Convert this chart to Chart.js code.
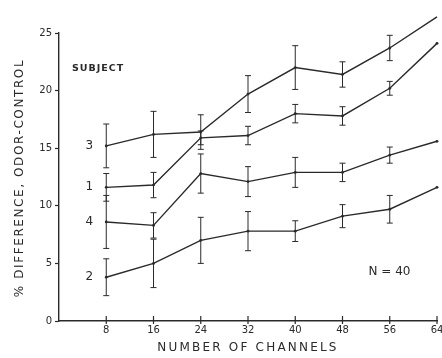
<!DOCTYPE html>
<html>
<head>
<meta charset="utf-8">
<script src="https://cdn.jsdelivr.net/npm/chart.js@4/dist/chart.umd.min.js"></script>
<style>
    html, body { margin: 0; padding: 0; background: #fff; }
    #wrap { width: 442px; height: 358px; position: relative; }
</style>
</head>
<body>
<div id="wrap"><canvas id="chart"></canvas></div>
<script>
// data
const channels = [8, 16, 24, 32, 40, 48, 56, 64];
const subjectLabels = ['3', '1', '4', '2'];
const subject3 = [15.2, 16.2, 16.4, 19.7, 22.0, 21.4, 23.7, 26.4];
const subject1 = [11.6, 11.8, 15.9, 16.1, 18.0, 17.8, 20.2, 24.1];
const subject4 = [8.6, 8.3, 12.8, 12.1, 12.9, 12.9, 14.4, 15.6];
const subject2 = [3.8, 5.0, 7.0, 7.8, 7.8, 9.1, 9.7, 11.6];
const err3 = [1.9, 2.0, 1.5, 1.6, 1.9, 1.1, 1.1, 0];
const err1 = [1.2, 1.1, 0.6, 0.8, 0.8, 0.8, 0.6, 0];
const err4 = [2.3, 1.1, 1.7, 1.3, 1.3, 0.8, 0.7, 0];
const err2 = [1.6, 2.1, 2.0, 1.7, 0.9, 1.0, 1.2, 0];
const yTicks = [0, 5, 10, 15, 20, 25];

const ink = '#2a2a2a';
const font = 'DejaVu Sans';

const seriesValues = [subject3, subject1, subject4, subject2];
const seriesErrors = [err3, err1, err4, err2];

const datasets = seriesValues.map((vals, i) => ({
    label: 'Subject ' + subjectLabels[i],
    data: vals.map((v, j) => ({ x: channels[j], y: v, err: seriesErrors[i][j] })),
    borderColor: ink,
    backgroundColor: ink,
    borderWidth: 1.4,
    pointRadius: 1.4,
    pointBorderWidth: 0,
    tension: 0,
    clip: false
}));

function spacedText(ctx, text, x, y, size, spacing, weight) {
    ctx.font = (weight || '') + ' ' + size + 'px ' + font;
    ctx.letterSpacing = spacing + 'px';
    ctx.fillText(text, x, y);
    ctx.letterSpacing = '0px';
}

// error bars, subject numbers, notes, titles and crossing x ticks
const extras = {
    id: 'extras',
    afterDatasetsDraw(chart) {
        const ctx = chart.ctx;
        const xs = chart.scales.x;
        const ys = chart.scales.y;
        ctx.save();
        ctx.strokeStyle = ink;
        ctx.lineWidth = 1;
        chart.data.datasets.forEach(ds => {
            ds.data.forEach(p => {
                if (!p.err) return;
                const x = xs.getPixelForValue(p.x);
                const top = ys.getPixelForValue(p.y + p.err);
                const bot = ys.getPixelForValue(p.y - p.err);
                ctx.beginPath();
                ctx.moveTo(x, top); ctx.lineTo(x, bot);
                ctx.moveTo(x - 3, top); ctx.lineTo(x + 3, top);
                ctx.moveTo(x - 3, bot); ctx.lineTo(x + 3, bot);
                ctx.stroke();
            });
        });

        // x ticks crossing the axis
        ctx.lineWidth = 1.2;
        const axisY = ys.getPixelForValue(0);
        channels.forEach(c => {
            const x = xs.getPixelForValue(c);
            ctx.beginPath();
            ctx.moveTo(x, axisY - 5);
            ctx.lineTo(x, axisY + 3);
            ctx.stroke();
        });

        ctx.fillStyle = ink;
        ctx.textBaseline = 'middle';
        ctx.textAlign = 'center';
        ctx.font = '12px ' + font;
        seriesValues.forEach((vals, i) => {
            ctx.fillText(subjectLabels[i], xs.getPixelForValue(channels[0]) - 17, ys.getPixelForValue(vals[0]));
        });
        ctx.textAlign = 'left';
        spacedText(ctx, 'SUBJECT', xs.getPixelForValue(2.2), ys.getPixelForValue(21.9), 9.5, 1, 'bold');
        spacedText(ctx, 'N = 40', xs.getPixelForValue(52.4), ys.getPixelForValue(4.3), 12, 0);

        // axis titles
        ctx.textAlign = 'center';
        spacedText(ctx, 'NUMBER OF CHANNELS', 248, 348, 12, 2.2);
        ctx.translate(20, 178);
        ctx.rotate(-Math.PI / 2);
        spacedText(ctx, '% DIFFERENCE, ODOR-CONTROL', 0, 0, 12, 1.6);
        ctx.restore();
    }
};

new Chart(document.getElementById('chart'), {
    type: 'line',
    data: { datasets },
    options: {
        responsive: true,
        maintainAspectRatio: false,
        animation: false,
        layout: { padding: { top: 33, right: 5, left: 0, bottom: 0 } },
        plugins: {
            legend: { display: false },
            tooltip: { enabled: false }
        },
        scales: {
            x: {
                type: 'linear',
                min: 0,
                max: 64,
                afterFit: s => { s.height = 37; s.paddingLeft = 0; s.paddingRight = 0; },
                afterBuildTicks: s => { s.ticks = channels.map(v => ({ value: v })); },
                grid: { display: false, drawTicks: false },
                border: { color: ink, width: 1.4 },
                ticks: { color: ink, font: { family: font, size: 10 }, padding: 3 }
            },
            y: {
                min: 0,
                max: 25,
                afterFit: s => { s.width = 59; s.paddingTop = 0; s.paddingBottom = 0; },
                afterBuildTicks: s => { s.ticks = yTicks.map(v => ({ value: v })); },
                grid: { drawOnChartArea: false, tickLength: 4, color: ink, tickWidth: 1.2 },
                border: { color: ink, width: 1.4 },
                ticks: { color: ink, font: { family: font, size: 10 }, padding: 3 }
            }
        }
    },
    plugins: [extras]
});
</script>
</body>
</html>
